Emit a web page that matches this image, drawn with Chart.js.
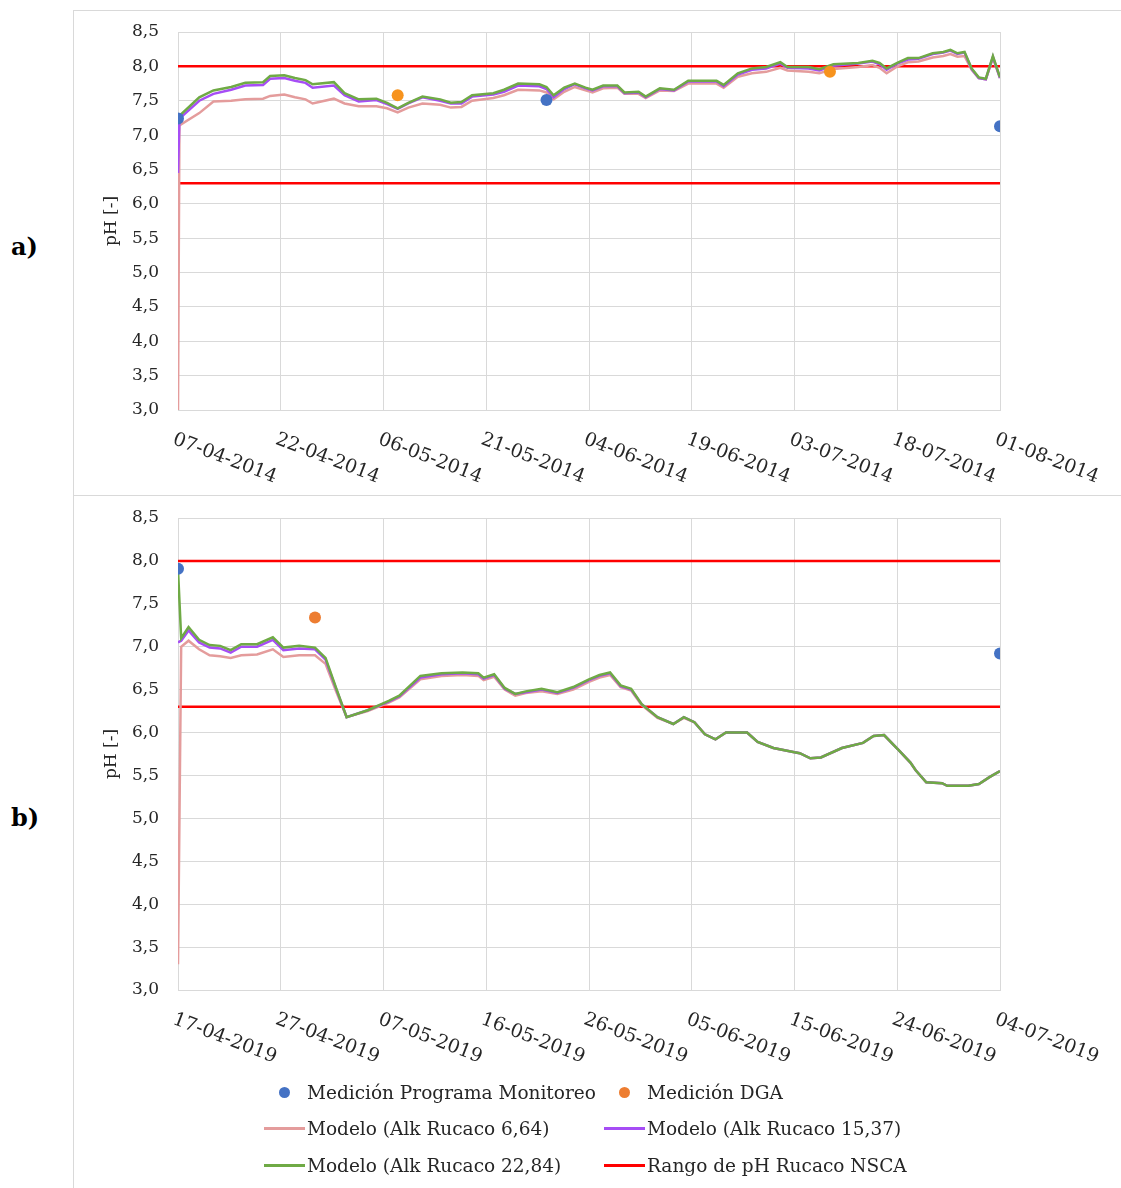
<!DOCTYPE html>
<html>
<head>
<meta charset="utf-8">
<script src="https://cdn.jsdelivr.net/npm/chart.js@4/dist/chart.umd.min.js"></script>
<style>
  body { margin: 0; background: #fff; width: 1121px; height: 1188px; position: relative; overflow: hidden; font-family: "DejaVu Serif", serif; color: #262626; }
  .rule { position: absolute; background: #d9d9d9; }
  canvas { position: absolute; left: 0; }
  .tag { position: absolute; left: 11px; font: bold 24px "DejaVu Serif", serif; color: #000; }
  #legend { position: absolute; left: 264px; top: 1074px; display: grid; grid-template-columns: 340px 340px; }
  .item { display: flex; align-items: center; height: 36.5px; font-size: 18.5px; white-space: nowrap; }
  .mk { width: 41px; margin-right: 2px; display: flex; align-items: center; justify-content: center; }
  .dot { width: 11px; height: 11px; border-radius: 50%; }
  .ln { width: 41px; height: 3px; }
</style>
</head>
<body>
<div class="rule" style="left:73px;top:10px;width:1px;height:1178px"></div>
<div class="rule" style="left:73px;top:10px;width:1048px;height:1px"></div>
<div class="rule" style="left:73px;top:495px;width:1048px;height:1px"></div>
<div class="tag" style="top:232px">a)</div>
<div class="tag" style="top:803px">b)</div>
<canvas id="chartA" width="1121" height="495" style="top:0"></canvas>
<canvas id="chartB" width="1121" height="693" style="top:495px"></canvas>
<div id="legend"></div>

<script>
// --- a) 2014 ---
const tickLabelsA = ["07-04-2014", "22-04-2014", "06-05-2014", "21-05-2014", "04-06-2014",
  "19-06-2014", "03-07-2014", "18-07-2014", "01-08-2014"];
// days since 07-04-2014
const daysA = [0, 0.2, 3, 5, 7.5, 9.5, 12, 13, 15, 16.5,
  18, 19, 22, 23.5, 25.5, 28, 29.5, 31, 32.5, 34.5,
  37, 38.5, 40, 41.5, 44.5, 46, 48, 51, 52, 53,
  54.5, 56, 57.5, 58.5, 60, 62, 63, 65, 66, 68,
  70, 72, 76, 77, 79, 81, 83, 85, 86, 89,
  90.5, 92.5, 96, 98, 99, 100, 101.5, 103, 104.5, 106.5,
  108, 109, 110, 111, 112, 113, 114, 115, 116];
const alk664A = [3.00, 7.14, 7.32, 7.49, 7.50, 7.52, 7.53, 7.57, 7.59, 7.55,
  7.52, 7.46, 7.53, 7.46, 7.42, 7.42, 7.39, 7.33, 7.40, 7.46,
  7.44, 7.40, 7.41, 7.50, 7.54, 7.58, 7.66, 7.65, 7.62, 7.52,
  7.63, 7.70, 7.65, 7.62, 7.68, 7.69, 7.60, 7.60, 7.54, 7.65,
  7.64, 7.75, 7.75, 7.69, 7.85, 7.90, 7.92, 7.98, 7.94, 7.92,
  7.90, 7.96, 7.99, 8.02, 7.98, 7.90, 8.00, 8.06, 8.07, 8.13,
  8.15, 8.18, 8.14, 8.15, 7.95, 7.83, 7.81, 8.12, 7.83];
const alk1537A = [6.45, 7.24, 7.50, 7.60, 7.66, 7.72, 7.73, 7.82, 7.83, 7.79,
  7.76, 7.69, 7.72, 7.58, 7.49, 7.51, 7.45, 7.38, 7.46, 7.55,
  7.50, 7.46, 7.46, 7.56, 7.59, 7.63, 7.72, 7.71, 7.67, 7.55,
  7.67, 7.74, 7.68, 7.65, 7.71, 7.71, 7.61, 7.62, 7.55, 7.67,
  7.65, 7.78, 7.78, 7.71, 7.88, 7.95, 7.97, 8.04, 7.98, 7.97,
  7.94, 8.01, 8.04, 8.07, 8.03, 7.95, 8.04, 8.10, 8.11, 8.18,
  8.20, 8.23, 8.18, 8.20, 7.96, 7.83, 7.81, 8.14, 7.83];
const alk2284A = [7.25, 7.28, 7.55, 7.65, 7.70, 7.76, 7.77, 7.86, 7.87, 7.83,
  7.80, 7.74, 7.77, 7.61, 7.52, 7.53, 7.47, 7.39, 7.47, 7.56,
  7.52, 7.47, 7.48, 7.58, 7.61, 7.66, 7.75, 7.74, 7.70, 7.58,
  7.69, 7.75, 7.69, 7.66, 7.72, 7.72, 7.62, 7.63, 7.56, 7.68,
  7.66, 7.79, 7.79, 7.73, 7.90, 7.97, 7.99, 8.06, 7.99, 7.99,
  7.96, 8.03, 8.05, 8.08, 8.05, 7.97, 8.05, 8.12, 8.12, 8.19,
  8.21, 8.24, 8.19, 8.21, 7.97, 7.84, 7.82, 8.15, 7.84];
const monitoreoDaysA = [0, 52, 116];
const monitoreoA = [7.24, 7.51, 7.13];
const dgaDaysA = [31, 92];
const dgaA = [7.58, 7.92];

// --- b) 2019 ---
const tickLabelsB = ["17-04-2019", "27-04-2019", "07-05-2019", "16-05-2019", "26-05-2019",
  "05-06-2019", "15-06-2019", "24-06-2019", "04-07-2019"];
// days since 17-04-2019
const daysB = [0, 0.3, 1, 2, 3, 4, 5, 6, 7.5, 9,
  10, 11.5, 13, 14, 15, 16, 18, 20, 21, 23,
  25, 27, 28.5, 29, 30, 31, 32, 33, 34.5, 36,
  37.5, 39, 40, 41, 42, 43, 44, 45.5, 47, 48,
  49, 50, 51, 52, 54, 55, 56.5, 58.5, 59, 60,
  61, 63, 65, 66, 67, 68.5, 69.5, 70, 71, 72.5,
  73, 75, 76, 77, 78];
const alk664B = [3.30, 7.00, 7.07, 6.97, 6.90, 6.89, 6.87, 6.90, 6.91, 6.97,
  6.88, 6.90, 6.90, 6.80, 6.48, 6.18, 6.25, 6.35, 6.41, 6.62,
  6.66, 6.67, 6.66, 6.61, 6.65, 6.50, 6.43, 6.46, 6.48, 6.45,
  6.50, 6.59, 6.64, 6.67, 6.53, 6.49, 6.32, 6.17, 6.10, 6.17,
  6.12, 5.98, 5.92, 6.00, 6.00, 5.89, 5.82, 5.77, 5.76, 5.70,
  5.71, 5.82, 5.88, 5.96, 5.97, 5.78, 5.65, 5.56, 5.42, 5.41,
  5.38, 5.38, 5.40, 5.48, 5.55];
const alk1537B = [7.05, 7.07, 7.19, 7.05, 6.99, 6.98, 6.93, 7.00, 7.00, 7.08,
  6.96, 6.98, 6.97, 6.85, 6.51, 6.18, 6.26, 6.36, 6.42, 6.64,
  6.68, 6.69, 6.68, 6.63, 6.67, 6.51, 6.45, 6.47, 6.50, 6.46,
  6.52, 6.61, 6.66, 6.69, 6.54, 6.50, 6.33, 6.18, 6.10, 6.18,
  6.12, 5.98, 5.92, 6.00, 6.00, 5.89, 5.82, 5.77, 5.76, 5.70,
  5.71, 5.82, 5.88, 5.96, 5.97, 5.78, 5.65, 5.56, 5.42, 5.41,
  5.38, 5.38, 5.40, 5.48, 5.55];
const alk2284B = [7.90, 7.10, 7.23, 7.08, 7.02, 7.01, 6.96, 7.03, 7.03, 7.11,
  6.99, 7.01, 6.99, 6.87, 6.52, 6.18, 6.26, 6.37, 6.43, 6.66,
  6.69, 6.70, 6.69, 6.64, 6.68, 6.52, 6.45, 6.48, 6.51, 6.47,
  6.53, 6.62, 6.67, 6.70, 6.55, 6.51, 6.33, 6.18, 6.10, 6.18,
  6.12, 5.98, 5.92, 6.00, 6.00, 5.89, 5.82, 5.77, 5.76, 5.70,
  5.71, 5.82, 5.88, 5.96, 5.97, 5.78, 5.65, 5.56, 5.42, 5.41,
  5.38, 5.38, 5.40, 5.48, 5.55];
const monitoreoDaysB = [0, 78];
const monitoreoB = [7.91, 6.92];
const dgaDaysB = [13];
const dgaB = [7.34];

// NSCA range limits (both periods)
const rangoNSCA = [6.3, 8.0];

const seriesNames = ["Medición Programa Monitoreo", "Medición DGA", "Modelo (Alk Rucaco 6,64)",
  "Modelo (Alk Rucaco 15,37)", "Modelo (Alk Rucaco 22,84)", "Rango de pH Rucaco NSCA"];
const colors = ["#4472C4", "#ED7D31", "#E49C9C", "#A64DF5", "#6FAA45", "#FF0000"];

const FONT = '"DejaVu Serif", serif';

// rotated date labels under the x axis
const dateLabels = {
  id: "dateLabels",
  afterDraw(chart, args, opts) {
    const { ctx } = chart;
    const x = chart.scales.x;
    ctx.save();
    ctx.font = "19px " + FONT;
    ctx.fillStyle = "#262626";
    ctx.textAlign = "left";
    ctx.textBaseline = "top";
    opts.labels.forEach((t, i) => {
      const px = x.getPixelForValue(x.ticks[i].value);
      ctx.save();
      ctx.translate(px - 1, chart.chartArea.bottom + 20);
      ctx.rotate((21 * Math.PI) / 180);
      ctx.fillText(t, 0, 0);
      ctx.restore();
    });
    ctx.restore();
  },
};

function points(days, vals) {
  return vals.map((v, i) => ({ x: days[i], y: v }));
}

function makeChart(id, p) {
  const xMax = p.days[p.days.length - 1];
  const lineDs = (label, data, color, order) => ({
    label, data, borderColor: color, backgroundColor: color,
    borderWidth: 2.5, pointRadius: 0, tension: 0, order,
  });
  const datasets = [
    { label: seriesNames[0], data: points(p.monDays, p.mon), showLine: false,
      pointRadius: 6, pointBackgroundColor: colors[0], pointBorderWidth: 0, order: 0 },
    { label: seriesNames[1], data: points(p.dgaDays, p.dga), showLine: false,
      pointRadius: 6, pointBackgroundColor: p.dgaColor, pointBorderWidth: 0, order: 0 },
    lineDs(seriesNames[2], p.alk664, colors[2], 4),
    lineDs(seriesNames[3], p.alk1537, colors[3], 3),
    lineDs(seriesNames[4], p.alk2284, colors[4], 2),
  ];
  rangoNSCA.forEach((v) => {
    datasets.push({
      label: seriesNames[5], data: [{ x: 0, y: v }, { x: xMax, y: v }],
      borderColor: colors[5], borderWidth: 2.5, pointRadius: 0, order: 5,
    });
  });

  new Chart(document.getElementById(id), {
    type: "line",
    data: { labels: p.days, datasets },
    plugins: [dateLabels],
    options: {
      responsive: false,
      animation: false,
      layout: { padding: { left: 73, top: p.top, right: 121, bottom: 0 } },
      plugins: {
        legend: { display: false },
        tooltip: { enabled: false },
        dateLabels: { labels: p.ticks },
      },
      scales: {
        x: {
          type: "linear", min: 0, max: xMax,
          grid: { color: "#d9d9d9", drawTicks: false },
          border: { color: "#d9d9d9" },
          ticks: { display: false },
          afterBuildTicks: (s) => {
            s.ticks = p.ticks.map((_, i) => ({ value: (i * xMax) / (p.ticks.length - 1) }));
          },
          afterFit: (s) => { s.height = p.xHeight; },
        },
        y: {
          min: 3, max: 8.5,
          // invisible tick marks give the label gap without extra top padding
          grid: { color: "#d9d9d9", drawTicks: true, tickLength: 19, tickColor: "rgba(0,0,0,0)" },
          border: { color: "#d9d9d9" },
          ticks: {
            stepSize: 0.5, padding: 0, color: "#262626",
            font: { family: FONT, size: 17 },
            callback: (v) => v.toFixed(1).replace(".", ","),
          },
          title: {
            display: true, text: "pH [-]", color: "#262626",
            font: { family: FONT, size: 17 }, padding: { top: 28, bottom: 0 },
          },
          afterFit: (s) => { s.width = 105; },
        },
      },
    },
  });
}

makeChart("chartA", {
  days: daysA, ticks: tickLabelsA, alk664: alk664A, alk1537: alk1537A, alk2284: alk2284A,
  monDays: monitoreoDaysA, mon: monitoreoA, dgaDays: dgaDaysA, dga: dgaA,
  dgaColor: "#F7931E", top: 32, xHeight: 85,
});
makeChart("chartB", {
  days: daysB, ticks: tickLabelsB, alk664: alk664B, alk1537: alk1537B, alk2284: alk2284B,
  monDays: monitoreoDaysB, mon: monitoreoB, dgaDays: dgaDaysB, dga: dgaB,
  dgaColor: colors[1], top: 23, xHeight: 198,
});

// shared legend below both panels
const legend = document.getElementById("legend");
seriesNames.forEach((name, i) => {
  const item = document.createElement("div");
  item.className = "item";
  const mk = document.createElement("span");
  mk.className = "mk";
  const sw = document.createElement("span");
  sw.className = i < 2 ? "dot" : "ln";
  sw.style.background = colors[i];
  mk.appendChild(sw);
  item.appendChild(mk);
  item.appendChild(document.createTextNode(name));
  legend.appendChild(item);
});
</script>
</body>
</html>
